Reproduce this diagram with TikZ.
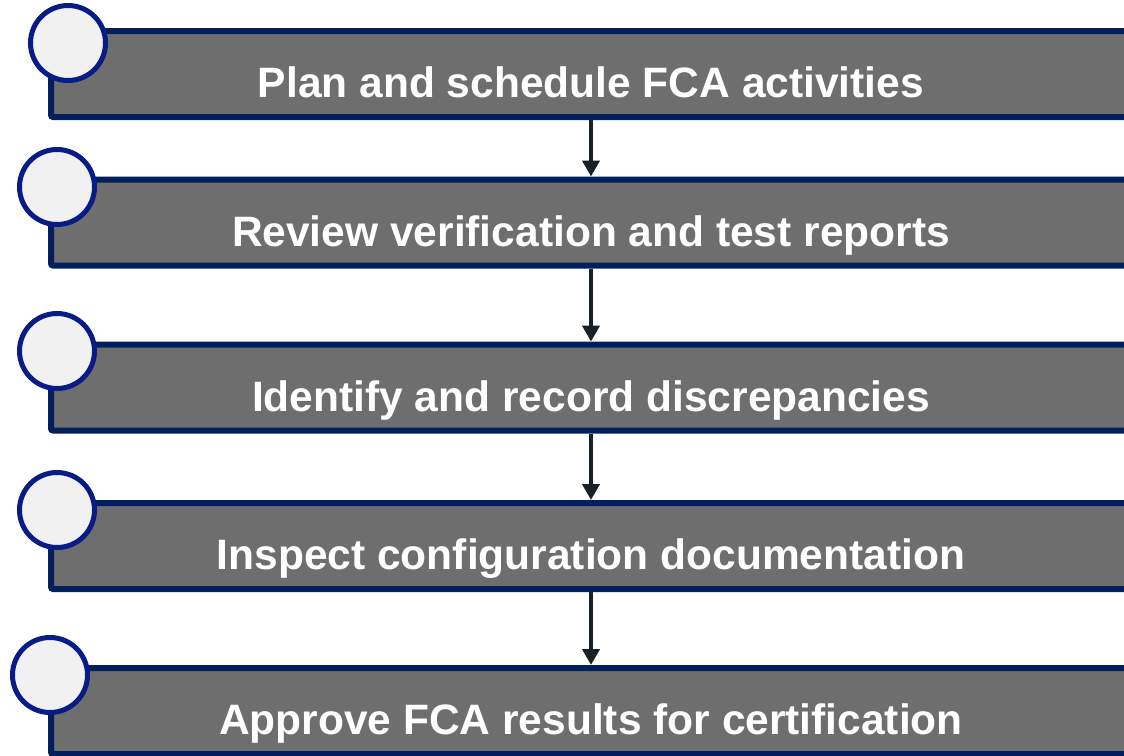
\documentclass[tikz,border=0pt]{standalone}
\usepackage{fontspec}
\setmainfont{Liberation Sans}
\usetikzlibrary{arrows.meta}

\definecolor{boxgray}{RGB}{110,110,110}
\definecolor{boxnavy}{RGB}{0,31,92}
\definecolor{ringblue}{RGB}{8,28,135}
\definecolor{ringfill}{RGB}{241,241,241}
\definecolor{arrowdark}{RGB}{23,33,38}

\tikzset{
    stepbox/.style={draw=boxnavy, fill=boxgray, line width=6pt, rounded corners=2pt,
        minimum width=1080pt, minimum height=86pt, inner sep=0pt,
        text=white, font=\fontsize{42.5}{50}\selectfont\bfseries,
        text height=47.5pt, text depth=0pt},
    stepring/.style={circle, draw=ringblue, fill=ringfill, line width=5pt,
        minimum size=75pt, inner sep=0pt},
    steparrow/.style={draw=arrowdark, line width=4.5pt,
        -{Triangle[width=17pt,length=16pt]}}
}

\begin{document}
\begin{tikzpicture}[x=1pt,y=-1pt]
    \useasboundingbox (0,0) rectangle (1124,755);
    \clip (0,0) rectangle (1124,755);

    % Draw the step boxes
    \foreach \i/\y/\txt in {1/74/Plan and schedule FCA activities,
                            2/222.5/Review verification and test reports,
                            3/387.5/Identify and record discrepancies,
                            4/546/Inspect configuration documentation,
                            5/711/Approve FCA results for certification} {
        \node[stepbox] (step\i) at (591,\y) {\txt};
    }

    % Draw arrows between the steps
    \foreach \a/\b in {1/2, 2/3, 3/4, 4/5} {
        \draw[steparrow] (step\a) -- (step\b);
    }

    % Draw the circles on the top left corners
    \foreach \i/\x/\y in {1/68/43, 2/57/187, 3/57/351, 4/57/510, 5/50/675} {
        \node[stepring] (ring\i) at (\x,\y) {};
    }
\end{tikzpicture}
\end{document}
